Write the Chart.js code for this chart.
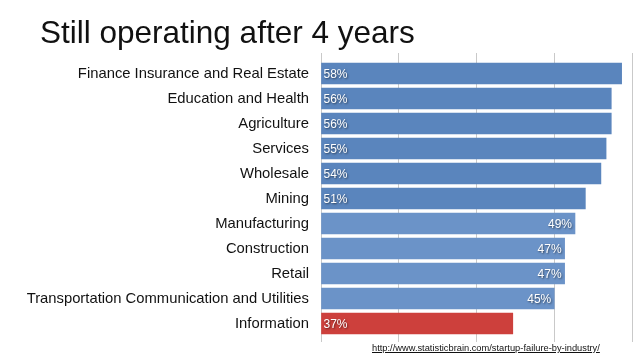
<!DOCTYPE html>
<html>
<head>
<meta charset="utf-8">
<script src="https://cdn.jsdelivr.net/npm/chart.js@4.4.1/dist/chart.umd.min.js"></script>
<style>
  html, body { margin: 0; padding: 0; background: #fff; }
  #wrap { position: relative; width: 638px; height: 359px; }
  #title {
    position: absolute; left: 40px; top: 16px; margin: 0;
    font: normal 31.5px/32px "Liberation Sans", Arial, sans-serif;
    color: #111; white-space: nowrap;
  }
  #source {
    position: absolute; left: 372px; top: 343px;
    font: 9.3px "Liberation Sans", Arial, sans-serif;
    color: #111; text-decoration: underline; white-space: nowrap;
  }
</style>
</head>
<body>
<div id="wrap">
  <canvas id="chart" width="638" height="359"></canvas>
  <h1 id="title">Still operating after 4 years</h1>
  <a id="source" href="http://www.statisticbrain.com/startup-failure-by-industry/">http://www.statisticbrain.com/startup-failure-by-industry/</a>
</div>
<script>
// ---- data ----
var CATEGORIES = [
  "Finance Insurance and Real Estate",
  "Education and Health",
  "Agriculture",
  "Services",
  "Wholesale",
  "Mining",
  "Manufacturing",
  "Construction",
  "Retail",
  "Transportation Communication and Utilities",
  "Information"
];
var STILL_OPERATING = [58, 56, 56, 55, 54, 51, 49, 47, 47, 45, 37];
var X_TICKS = [0, 15, 30, 45, 60];

var FONT = '"Liberation Sans", Arial, Helvetica, sans-serif';

// bar groups: top six dark blue, next four lighter blue (label at end), last red
function groupOf(i) {
  if (i < 6) return "dark";
  if (i < 10) return "light";
  return "red";
}
var GROUP_COLORS = { dark: "#5a85bd", light: "#6b93c8", red: "#cd403c" };

// value labels inside the bars
var valueLabels = {
  id: "valueLabels",
  afterDatasetsDraw: function (chart) {
    var ctx = chart.ctx;
    var meta = chart.getDatasetMeta(0);
    ctx.save();
    ctx.font = "12px " + FONT;
    ctx.fillStyle = "#ffffff";
    ctx.textBaseline = "middle";
    ctx.shadowColor = "rgba(0,0,0,0.55)";
    ctx.shadowOffsetX = 1;
    ctx.shadowOffsetY = 1;
    ctx.shadowBlur = 2;
    meta.data.forEach(function (bar, i) {
      var txt = STILL_OPERATING[i] + "%";
      if (groupOf(i) === "light") {
        ctx.textAlign = "right";
        ctx.fillText(txt, bar.x - 3, bar.y + 1);
      } else {
        ctx.textAlign = "left";
        ctx.fillText(txt, bar.base + 2, bar.y + 1);
      }
    });
    ctx.restore();
  }
};

function fixedTicks(scale) {
  scale.ticks = X_TICKS.map(function (v) { return { value: v }; });
}

new Chart(document.getElementById("chart").getContext("2d"), {
  type: "bar",
  data: {
    labels: CATEGORIES,
    datasets: [{
      data: STILL_OPERATING,
      backgroundColor: STILL_OPERATING.map(function (v, i) { return GROUP_COLORS[groupOf(i)]; }),
      borderWidth: 0,
      barThickness: 21
    }]
  },
  options: {
    indexAxis: "y",
    responsive: false,
    animation: false,
    layout: { padding: { left: 6, right: 6, top: 53, bottom: 17 } },
    plugins: {
      legend: { display: false },
      tooltip: { enabled: false },
      title: { display: false }
    },
    scales: {
      x: {
        position: "bottom",
        min: X_TICKS[0],
        max: X_TICKS[X_TICKS.length - 1],
        afterBuildTicks: fixedTicks,
        ticks: { display: false },
        grid: { color: "#c9c9c9", lineWidth: 1, tickLength: 6 },
        border: { display: false }
      },
      x2: {
        position: "top",
        min: X_TICKS[0],
        max: X_TICKS[X_TICKS.length - 1],
        afterBuildTicks: fixedTicks,
        ticks: { display: false },
        grid: { color: "#c9c9c9", lineWidth: 1, tickLength: 8, drawOnChartArea: false },
        border: { display: false }
      },
      y: {
        afterFit: function (scale) { scale.width = 315; },
        ticks: {
          color: "#111",
          padding: 12,
          font: { family: FONT, size: 14.8 }
        },
        grid: { display: false, drawTicks: false },
        border: { display: false }
      }
    }
  },
  plugins: [valueLabels]
});
</script>
</body>
</html>
